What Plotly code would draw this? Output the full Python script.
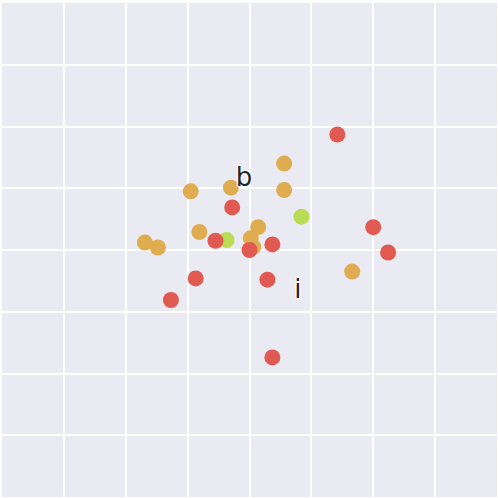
import plotly.graph_objects as go

orange_x = [0.56, 0.56, -0.95, -0.30, 0.14, -0.81, 0.02, 0.06, -1.69, -1.48, 1.66]
orange_y = [1.40, 0.97, 0.95, 1.01, 0.37, 0.29, 0.19, 0.05, 0.12, 0.04, -0.35]

green_x = [0.84, -0.37]
green_y = [0.54, 0.16]

red_x = [1.42, -0.28, -0.55, 0.00, 0.37, 2.00, 2.24, -0.87, 0.29, -1.27, 0.37]
red_y = [1.87, 0.69, 0.15, 0.00, 0.09, 0.37, -0.04, -0.46, -0.48, -0.81, -1.74]

label_text = ["b", "i"]
label_x = [-0.09, 0.78]
label_y = [1.14, -0.67]

fig = go.Figure()

for xs, ys, col in [(orange_x, orange_y, "#E0AC50"),
                    (green_x, green_y, "#B8DC54"),
                    (red_x, red_y, "#E05A52")]:
    fig.add_trace(go.Scatter(
        x=xs, y=ys, mode="markers",
        marker=dict(size=16, color=col, line=dict(width=0)),
        hoverinfo="skip", showlegend=False
    ))

fig.add_trace(go.Scatter(
    x=label_x, y=label_y, mode="text", text=label_text,
    textposition="middle center",
    textfont=dict(family="DejaVu Sans", size=26, color="#262626",
                  shadow="1px 1px 0px #fff, -1px -1px 0px #fff, 1px -1px 0px #fff, -1px 1px 0px #fff"),
    hoverinfo="skip", showlegend=False
))

axis = dict(range=[-4, 4], dtick=1, showticklabels=False, ticks="",
            showgrid=True, gridcolor="white", gridwidth=1.5,
            zeroline=True, zerolinecolor="white", zerolinewidth=1.5,
            showline=False, fixedrange=True)

fig.update_layout(
    width=498, height=498,
    margin=dict(l=2, r=1, t=3, b=1),
    plot_bgcolor="#EAEAF2",
    paper_bgcolor="white",
    xaxis=axis, yaxis=axis,
)

# the page body has a default 8px margin; remove it so the figure sits at 0,0
fig.write_html("out.html", config={"displayModeBar": False},
               post_script="document.body.style.margin='0';")
